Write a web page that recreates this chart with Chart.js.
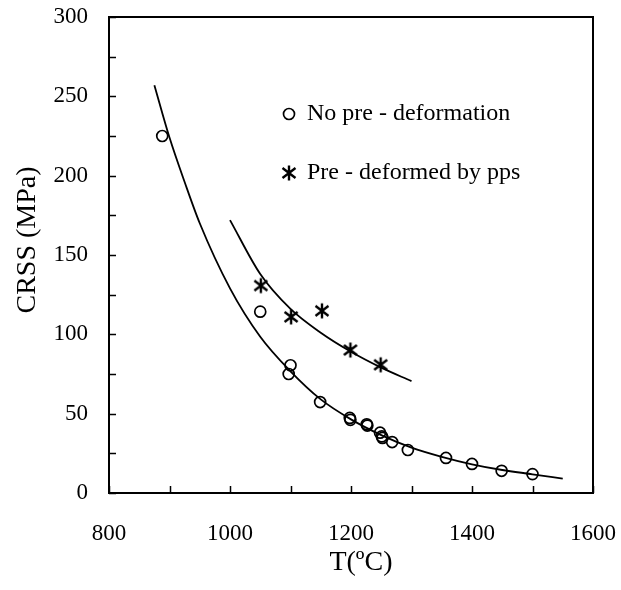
<!DOCTYPE html>
<html>
<head>
<meta charset="utf-8">
<script src="https://cdn.jsdelivr.net/npm/chart.js@4/dist/chart.umd.min.js"></script>
<style>
  html, body { margin: 0; padding: 0; background: #ffffff; }
  #wrap { width: 621px; height: 590px; position: relative; }
</style>
</head>
<body>
<div id="wrap"><canvas id="c" width="621" height="590"></canvas></div>
<script>
// ---- Data ----
const noPreT    = [888, 1050, 1100, 1097, 1149, 1198, 1199, 1226, 1227, 1248, 1251, 1252, 1268, 1294, 1357, 1400, 1449, 1500];
const noPreCRSS = [225, 114.3, 80.5, 75, 57.3, 47.3, 46.1, 43.3, 42.5, 38, 35.7, 34.7, 32.1, 27.1, 22.1, 18.3, 14, 11.9];

const ppsT    = [1051, 1101, 1152, 1199, 1249];
const ppsCRSS = [130.7, 111, 114.8, 90.1, 80.8];

const fitNoPreT    = [875, 900, 925, 950, 1000, 1050, 1100, 1150, 1200, 1250, 1300, 1350, 1400, 1450, 1500, 1550];
const fitNoPreCRSS = [257, 224, 196, 170, 129, 98.5, 76.7, 59, 46.4, 36.5, 28.6, 22.8, 18.1, 14.5, 11.8, 9.0];

const fitPpsT    = [1000, 1050, 1100, 1150, 1200, 1250, 1300];
const fitPpsCRSS = [172, 138, 116, 101, 89, 79, 70.5];

const legendLabels = ['No pre - deformation', 'Pre - deformed by pps'];
const xTitle = 'T(ºC)';
const yTitle = 'CRSS (MPa)';
const xMin = 800, xMax = 1600, xStep = 100, xLabelStep = 200;
const yMin = 0, yMax = 300, yStep = 25, yLabelStep = 50;

const SERIF = '"Liberation Serif", "Times New Roman", serif';

// star (asterisk) marker
function makeStar() {
  const s = 18;
  const cv = document.createElement('canvas');
  cv.width = s; cv.height = s;
  const g = cv.getContext('2d');
  g.strokeStyle = '#000';
  g.lineWidth = 2.4;
  g.lineCap = 'butt';
  g.beginPath();
  g.moveTo(9, 1.5); g.lineTo(9, 16.5);
  g.moveTo(2.5, 4); g.lineTo(15.5, 14);
  g.moveTo(2.5, 14); g.lineTo(15.5, 4);
  g.stroke();
  return cv;
}
const starImg = makeStar();

function toXY(xs, ys) { return xs.map((x, i) => ({ x: x, y: ys[i] })); }

const framePlugin = {
  id: 'frame',
  afterDatasetsDraw(chart) {
    const ctx = chart.ctx;
    const a = chart.chartArea;
    const xs = chart.scales.x, ys = chart.scales.y;
    ctx.save();
    ctx.strokeStyle = '#000';
    ctx.lineWidth = 2;
    ctx.strokeRect(a.left, a.top, a.right - a.left, a.bottom - a.top);
    ctx.lineWidth = 1.5;
    ctx.beginPath();
    xs.ticks.forEach(t => {
      const px = Math.round(xs.getPixelForValue(t.value)) + 0.5;
      ctx.moveTo(px, a.bottom);
      ctx.lineTo(px, a.bottom - 7);
    });
    ys.ticks.forEach(t => {
      const py = Math.round(ys.getPixelForValue(t.value)) + 0.5;
      ctx.moveTo(a.left, py);
      ctx.lineTo(a.left + 7, py);
    });
    ctx.stroke();

    // legend
    const lx = a.left + 180, ly1 = a.top + 97, ly2 = a.top + 156;
    ctx.lineWidth = 1.7;
    ctx.beginPath();
    ctx.arc(lx, ly1, 5.5, 0, Math.PI * 2);
    ctx.stroke();
    ctx.drawImage(starImg, lx - 9, ly2 - 9);
    ctx.fillStyle = '#000';
    ctx.font = '24px ' + SERIF;
    ctx.textBaseline = 'middle';
    ctx.textAlign = 'left';
    ctx.fillText(legendLabels[0], lx + 18, ly1);
    ctx.fillText(legendLabels[1], lx + 18, ly2);

    // axis titles
    ctx.textAlign = 'center';
    ctx.font = '28px ' + SERIF;
    ctx.fillText(xTitle, (a.left + a.right) / 2 + 10, a.bottom + 70);
    ctx.save();
    ctx.translate(a.left - 81, a.top + 223);
    ctx.rotate(-Math.PI / 2);
    ctx.fillText(yTitle, 0, 0);
    ctx.restore();
    ctx.restore();
  }
};

new Chart(document.getElementById('c'), {
  type: 'scatter',
  data: {
    datasets: [
      {
        label: legendLabels[0],
        data: toXY(noPreT, noPreCRSS),
        showLine: false,
        pointStyle: 'circle',
        pointRadius: 5.5,
        pointBorderWidth: 1.7,
        pointBorderColor: '#000',
        pointBackgroundColor: 'rgba(0,0,0,0)'
      },
      {
        label: legendLabels[1],
        data: toXY(ppsT, ppsCRSS),
        showLine: false,
        pointStyle: starImg,
        pointRadius: 9,
        pointBorderColor: '#000'
      },
      {
        label: 'fit1',
        data: toXY(fitNoPreT, fitNoPreCRSS),
        showLine: true,
        pointRadius: 0,
        borderColor: '#000',
        borderWidth: 1.8,
        cubicInterpolationMode: 'monotone',
        fill: false
      },
      {
        label: 'fit2',
        data: toXY(fitPpsT, fitPpsCRSS),
        showLine: true,
        pointRadius: 0,
        borderColor: '#000',
        borderWidth: 1.8,
        cubicInterpolationMode: 'monotone',
        fill: false
      }
    ]
  },
  options: {
    responsive: false,
    animation: false,
    layout: { padding: { left: 0, top: 17, right: 28, bottom: 0 } },
    plugins: { legend: { display: false }, tooltip: { enabled: false } },
    scales: {
      x: {
        type: 'linear',
        min: xMin, max: xMax,
        grid: { display: false, drawTicks: false },
        border: { display: false },
        ticks: {
          stepSize: xStep,
          autoSkip: false,
          maxRotation: 0,
          padding: 27,
          color: '#000',
          font: { family: SERIF, size: 23 },
          callback: v => (v % xLabelStep === 0 ? String(v) : '')
        },
        title: { display: false },
        afterFit: s => { s.height = 97; s.paddingLeft = 0; s.paddingRight = 0; }
      },
      y: {
        type: 'linear',
        min: yMin, max: yMax,
        grid: { display: false, drawTicks: false },
        border: { display: false },
        ticks: {
          stepSize: yStep,
          autoSkip: false,
          padding: 21,
          color: '#000',
          font: { family: SERIF, size: 23 },
          callback: v => (v % yLabelStep === 0 ? String(v) : '')
        },
        title: { display: false },
        afterFit: s => { s.width = 109; s.paddingTop = 0; s.paddingBottom = 0; }
      }
    }
  },
  plugins: [framePlugin]
});
</script>
</body>
</html>
